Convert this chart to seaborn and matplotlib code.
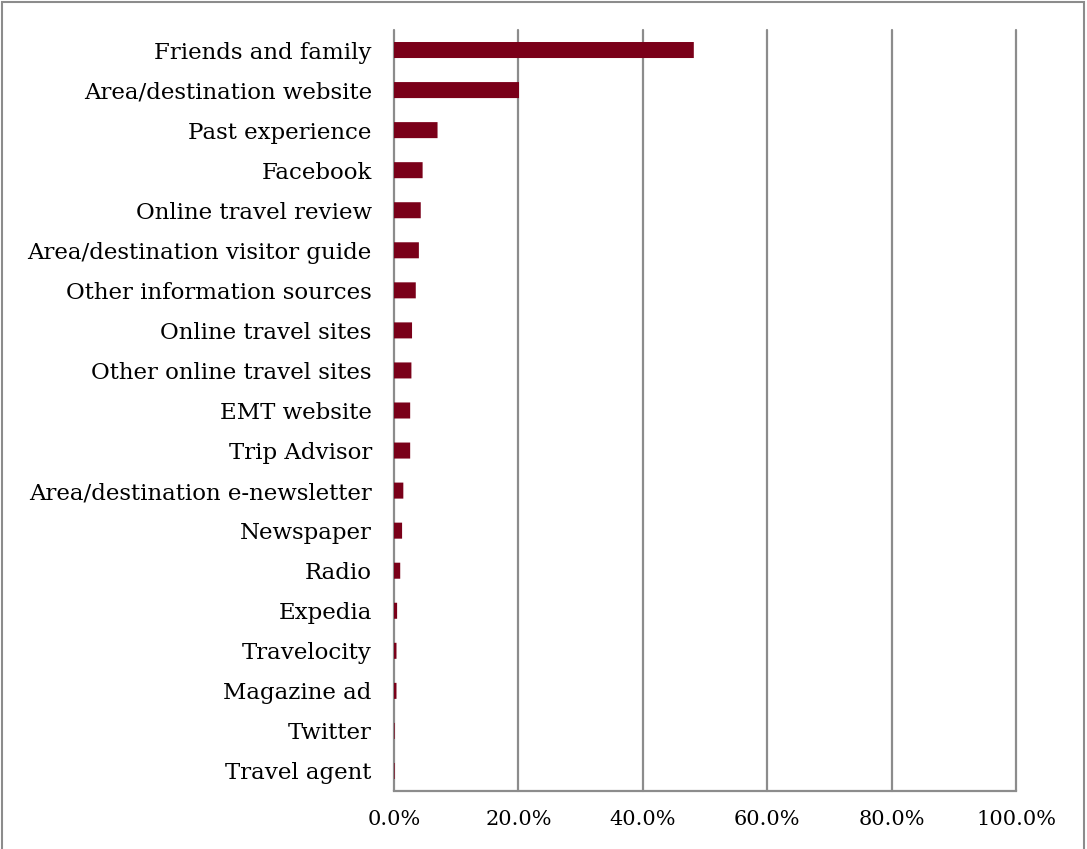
import matplotlib
matplotlib.use("Agg")
import matplotlib.pyplot as plt
import seaborn as sns
import pandas as pd
from matplotlib.patches import Rectangle

sources = [
    "Friends and family",
    "Area/destination website",
    "Past experience",
    "Facebook",
    "Online travel review",
    "Area/destination visitor guide",
    "Other information sources",
    "Online travel sites",
    "Other online travel sites",
    "EMT website",
    "Trip Advisor",
    "Area/destination e-newsletter",
    "Newspaper",
    "Radio",
    "Expedia",
    "Travelocity",
    "Magazine ad",
    "Twitter",
    "Travel agent",
]
share_pct = [48.2, 20.1, 7.0, 4.6, 4.3, 4.0, 3.5, 2.9, 2.8, 2.6, 2.6,
             1.5, 1.3, 1.0, 0.5, 0.4, 0.4, 0.1, 0.1]
tick_values = [0, 20, 40, 60, 80, 100]
tick_labels = ["0.0%", "20.0%", "40.0%", "60.0%", "80.0%", "100.0%"]

df = pd.DataFrame({"source": sources, "share": share_pct})

sns.set_style("white")
plt.rcParams["font.family"] = ["DejaVu Serif", "Liberation Serif"]

W, H = 1087, 849
fig = plt.figure(figsize=(W / 100, H / 100), dpi=100)
ax = fig.add_axes([394 / W, 1 - 791 / H, (1016 - 394) / W, (791 - 30) / H])

sns.barplot(data=df, x="share", y="source", orient="h", color="#7A0019",
            saturation=1, width=0.4, linewidth=0, ax=ax, zorder=3)
for bar in ax.patches:
    bar.set_snap(False)

ax.set_xlim(0, 100)
ax.set_ylim(len(sources) - 0.5, -0.5)
ax.set_xticks(tick_values)
ax.set_xticklabels(tick_labels)
ax.set_xlabel("")
ax.set_ylabel("")

grid_color = "#8C8C8C"
for v in tick_values:
    ax.axvline(v, color=grid_color, lw=1.6, zorder=1, clip_on=False)

for side in ["top", "right", "left"]:
    ax.spines[side].set_visible(False)
ax.spines["bottom"].set_color(grid_color)
ax.spines["bottom"].set_linewidth(1.6)

ax.tick_params(axis="x", length=0, pad=14, labelsize=15, colors="black")
ax.tick_params(axis="y", length=0, pad=16, labelsize=16.5, colors="black")

# outer frame around the figure
fig.patches.append(Rectangle((2 / W, -0.01), (1084 - 2) / W, 1.01 - 1.5 / H,
                             transform=fig.transFigure, fill=False,
                             edgecolor="#8C8C8C", lw=1.5))

fig.savefig("out.png", dpi=100)
